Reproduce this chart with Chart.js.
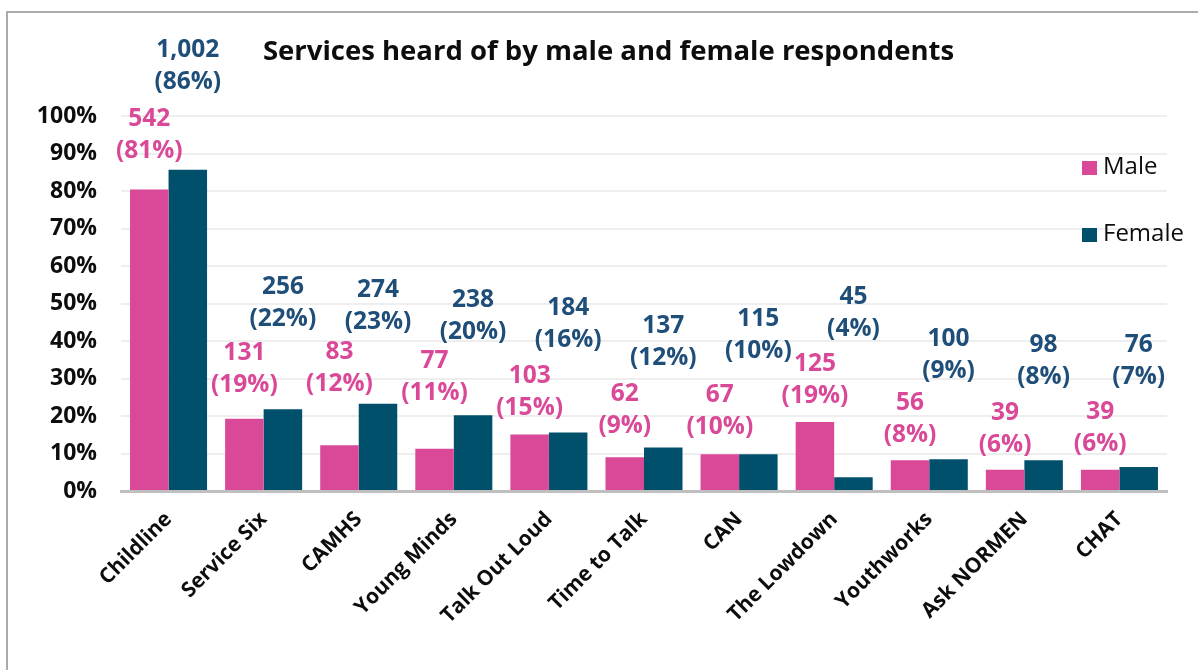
<!DOCTYPE html>
<html>
<head>
<meta charset="utf-8">
<title>Services heard of by male and female respondents</title>
<script src="https://cdn.jsdelivr.net/npm/chart.js@4.4.1/dist/chart.umd.min.js"></script>
<style>
    html, body { margin: 0; padding: 0; background: #fff; overflow: hidden; }
    body { width: 1198px; height: 670px; position: relative; font-family: "Open Sans", sans-serif; }
    #frame {
        position: absolute; left: 6px; top: 11px; width: 1400px; height: 800px;
        border-top: 2px solid #ABABAB; border-left: 2px solid #ABABAB;
    }
    #title {
        position: absolute; left: 0; top: 30px; width: 1217px; text-align: center;
        font-size: 27.5px; font-weight: 700; color: #0D0D0D; line-height: 40px;
    }
    #chartBox { position: absolute; left: 0; top: 0; width: 1198px; height: 670px; }
    .legend-item {
        position: absolute; left: 1082px; height: 30px; line-height: 30px;
        font-size: 24px; color: #0D0D0D; white-space: nowrap;
    }
    .legend-item span {
        display: inline-block; width: 15px; height: 14px; margin-right: 6px; vertical-align: -1px;
    }
</style>
</head>
<body>
<div id="frame"></div>
<div id="chartBox"><canvas id="servicesChart" width="1198" height="670"></canvas></div>
<div id="title">Services heard of by male and female respondents</div>
<div class="legend-item" style="top:150px"><span style="background:#DA4898"></span>Male</div>
<div class="legend-item" style="top:217px"><span style="background:#00506B"></span>Female</div>

<script>
// categories and values
const services = ['Childline', 'Service Six', 'CAMHS', 'Young Minds', 'Talk Out Loud',
    'Time to Talk', 'CAN', 'The Lowdown', 'Youthworks', 'Ask NORMEN', 'CHAT'];

// bar heights (% of respondents)
const malePct = [80.4, 19.3, 12.2, 11.3, 15.1, 9.0, 9.8, 18.4, 8.2, 5.7, 5.7];
const femalePct = [85.7, 21.8, 23.3, 20.2, 15.6, 11.6, 9.8, 3.7, 8.5, 8.2, 6.4];

// numbers shown in the data labels
const maleCounts = [542, 131, 83, 77, 103, 62, 67, 125, 56, 39, 39];
const femaleCounts = [1002, 256, 274, 238, 184, 137, 115, 45, 100, 98, 76];
const maleLabelPct = [81, 19, 12, 11, 15, 9, 10, 19, 8, 6, 6];
const femaleLabelPct = [86, 22, 23, 20, 16, 12, 10, 4, 9, 8, 7];

const yTicks = [0, 10, 20, 30, 40, 50, 60, 70, 80, 90, 100];

// where the labels sit (in axis %), they were placed by hand in the original
const maleLabelAt = [94.8, 32.5, 32.7, 30.3, 26.4, 21.6, 21.2, 29.6, 19.2, 16.6, 16.8];
const femaleLabelAt = [113.3, 50.1, 49.3, 46.7, 44.5, 39.6, 41.6, 47.5, 36.3, 34.7, 34.7];

const MALE = '#DA4898';
const FEMALE = '#00506B';
const FEMALE_TEXT = '#1F4E79';
const FONT = '"Open Sans", sans-serif';

// draws the two-line "count (pct%)" labels above each bar
const barLabels = {
    id: 'barLabels',
    afterDatasetsDraw(chart) {
        const ctx = chart.ctx;
        const yScale = chart.scales.y;
        ctx.save();
        ctx.font = `700 24.5px ${FONT}`;
        ctx.textAlign = 'center';
        ctx.textBaseline = 'middle';
        chart.data.datasets.forEach((ds, di) => {
            const meta = chart.getDatasetMeta(di);
            ctx.fillStyle = ds.labelColor;
            meta.data.forEach((bar, i) => {
                const cy = yScale.getPixelForValue(ds.labelAt[i]);
                ctx.fillText(ds.counts[i].toLocaleString('en-GB'), bar.x, cy - 16);
                ctx.fillText(`(${ds.labelPct[i]}%)`, bar.x, cy + 16);
            });
        });
        ctx.restore();
    }
};

new Chart(document.getElementById('servicesChart'), {
    type: 'bar',
    data: {
        labels: services,
        datasets: [{
            label: 'Male',
            data: malePct,
            backgroundColor: MALE,
            counts: maleCounts,
            labelPct: maleLabelPct,
            labelAt: maleLabelAt,
            labelColor: MALE
        }, {
            label: 'Female',
            data: femalePct,
            backgroundColor: FEMALE,
            counts: femaleCounts,
            labelPct: femaleLabelPct,
            labelAt: femaleLabelAt,
            labelColor: FEMALE_TEXT
        }]
    },
    options: {
        responsive: false,
        animation: false,
        layout: { padding: { top: 116, right: 31, bottom: 0, left: 0 } },
        datasets: { bar: { barPercentage: 1, categoryPercentage: 0.81 } },
        plugins: {
            legend: { display: false },
            title: { display: false },
            tooltip: { enabled: false }
        },
        scales: {
            x: {
                grid: { display: false },
                border: { color: '#BFBFBF', width: 3 },
                ticks: {
                    autoSkip: false,
                    minRotation: 45,
                    maxRotation: 45,
                    padding: 8,
                    color: '#0D0D0D',
                    font: { family: FONT, size: 21, weight: '700' }
                },
                afterFit(scale) { scale.height = 179; }
            },
            y: {
                min: 0,
                max: 100,
                afterBuildTicks(scale) { scale.ticks = yTicks.map(v => ({ value: v })); },
                grid: { color: '#EEEEEE', lineWidth: 2, drawTicks: false },
                border: { display: false },
                ticks: {
                    padding: 24,
                    color: '#0D0D0D',
                    font: { family: FONT, size: 23, weight: '700' },
                    callback: v => v + '%'
                },
                afterFit(scale) { scale.width = 121; }
            }
        }
    },
    plugins: [barLabels]
});
</script>
</body>
</html>
